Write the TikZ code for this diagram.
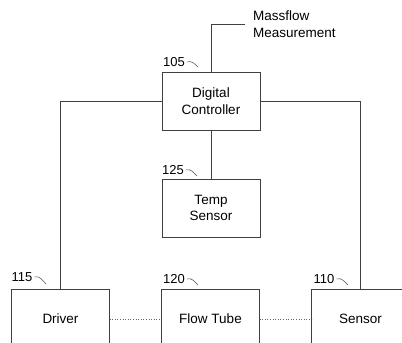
\documentclass[tikz,border=0pt]{standalone}
\usepackage{fontspec}
\setmainfont{Liberation Sans}
\usetikzlibrary{positioning}

\begin{document}
\begin{tikzpicture}
    [x=1pt,y=-1pt,
    every node/.style={font=\fontsize{13.5}{16.5}\selectfont},
    block/.style={draw=black!75,line width=0.6pt,minimum width=98pt,minimum height=58pt,
        align=center,inner sep=0pt,outer sep=0pt},
    wire/.style={draw=black!75,line width=0.6pt},
    link/.style={draw=black!60,line width=0.6pt,dotted},
    refnum/.style={inner sep=0pt,font=\fontsize{13}{15}\selectfont},
    tick/.style={draw=black!70,line width=0.5pt}]

    \useasboundingbox (0,0) rectangle (402,343);
    \clip (0,0) rectangle (402,343);

    \node[block] (Controller) at (211,101) {Digital\\Controller};
    \node[block] (TempSensor) [below=49pt of Controller] {Temp\\Sensor};
    \node[block,minimum height=60pt] (Driver) at (60.5,319) {Driver};
    \node[block,minimum height=60pt] (FlowTube) [right=52pt of Driver] {Flow Tube};
    \node[block,minimum height=60pt] (Sensor) [right=52pt of FlowTube] {Sensor};
    \node[align=left,anchor=west,inner sep=8pt] (Massflow) at (245,24) {Massflow\\Measurement};

    % connections
    \draw[wire] (Controller.north) |- (Massflow.west);
    \draw[wire] (Controller.west) -| (Driver.north);
    \draw[wire] (Controller.east) -| (Sensor.north);
    \draw[wire] (Controller) -- (TempSensor);
    \draw[link] (Driver) -- (FlowTube);
    \draw[link] (FlowTube) -- (Sensor);

    % reference numbers
    \node[refnum] (n105) at (174,62) {105};
    \node[refnum] (n125) at (173,170) {125};
    \node[refnum] (n115) at (22,277) {115};
    \node[refnum] (n120) at (174,279) {120};
    \node[refnum] (n110) at (324,279) {110};
    \coordinate (t105) at (198,67);
    \coordinate (t125) at (197,176);
    \coordinate (t115) at (46,284);
    \coordinate (t120) at (198,285);
    \coordinate (t110) at (348,285);
    \draw[tick] (n105.east) ++(2,0) to[out=20,in=135] (t105);
    \draw[tick] (n125.east) ++(2,0) to[out=20,in=135] (t125);
    \draw[tick] (n115.east) ++(2,0) to[out=20,in=135] (t115);
    \draw[tick] (n120.east) ++(2,0) to[out=20,in=135] (t120);
    \draw[tick] (n110.east) ++(2,0) to[out=20,in=135] (t110);
\end{tikzpicture}
\end{document}
